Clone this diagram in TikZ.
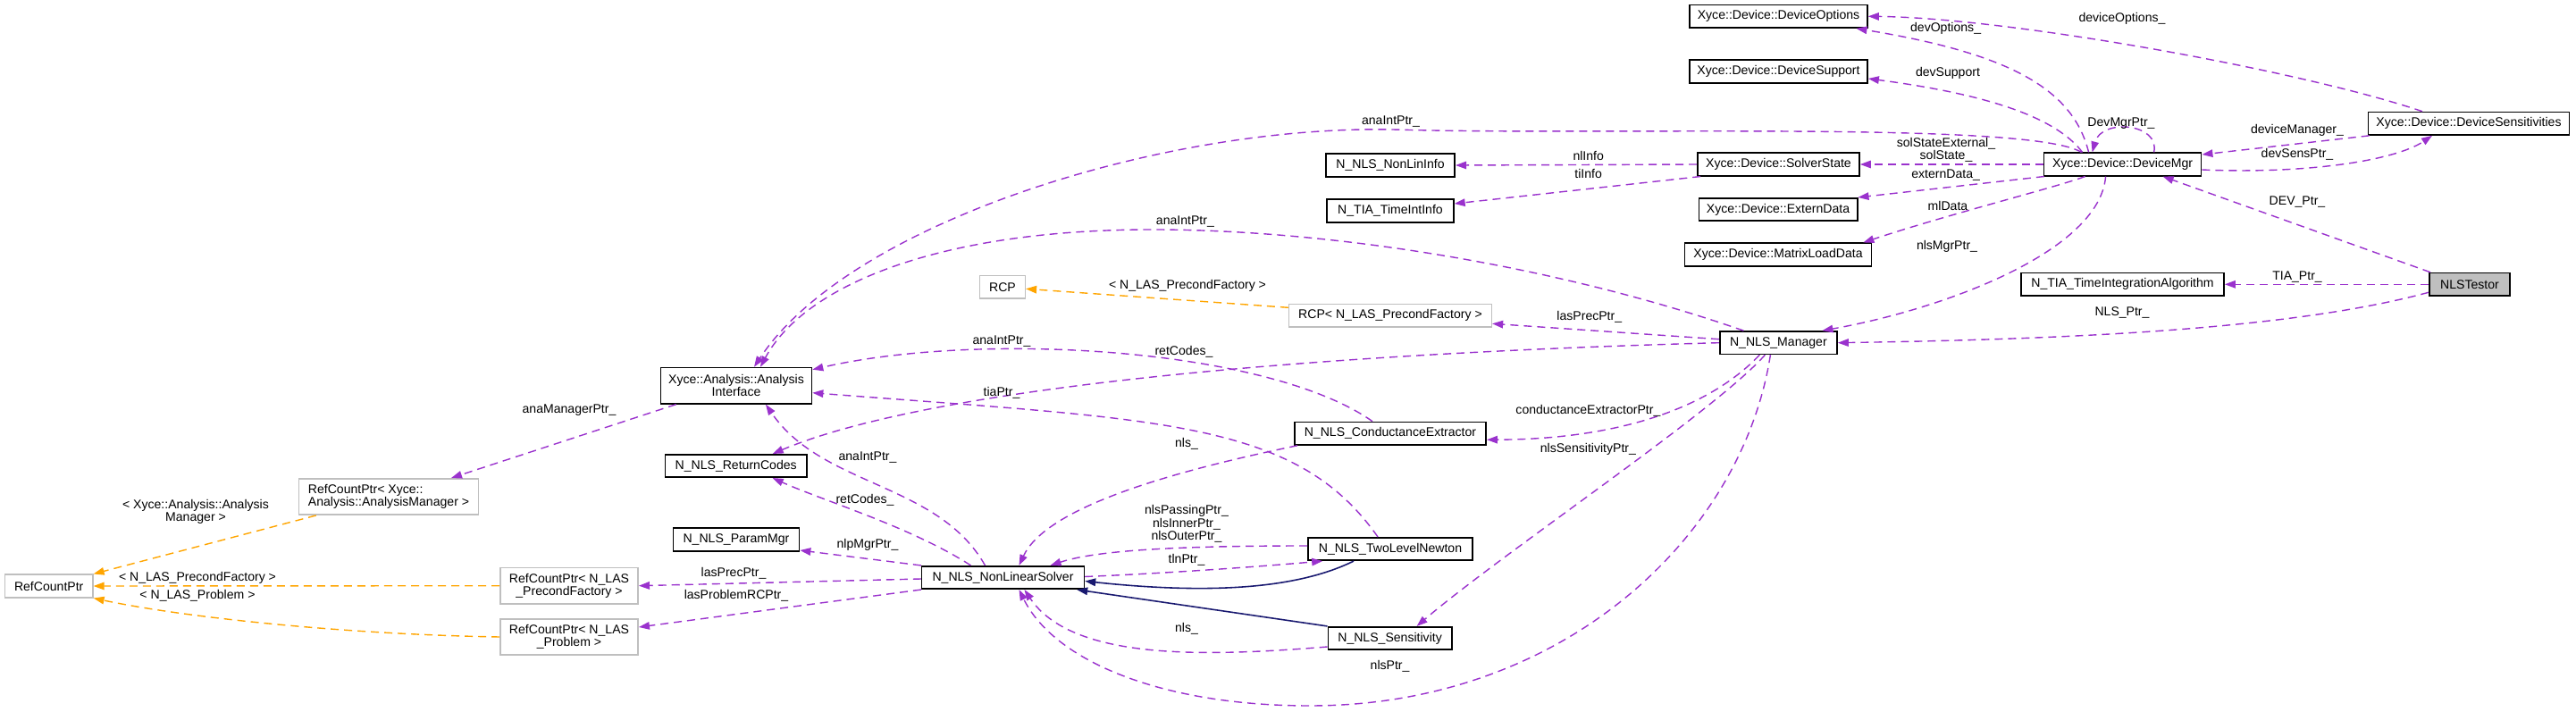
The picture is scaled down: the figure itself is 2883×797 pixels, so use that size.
\documentclass[tikz,border=0pt]{standalone}
\usepackage{fontspec}
\setmainfont{Liberation Sans}
\usetikzlibrary{arrows.meta,calc}
\definecolor{pur}{HTML}{9A32CD}
\definecolor{navyc}{HTML}{191970}
\definecolor{orgc}{HTML}{FFA500}
\definecolor{gbord}{HTML}{BFBFBF}
\begin{document}
\begin{tikzpicture}[x=0.01cm,y=-0.01cm,font=\fontsize{4}{4.1}\selectfont,
  cls/.style={draw=black,line width=0.45pt,fill=white,inner xsep=0.04cm,inner ysep=0.02cm,minimum height=0.255cm},
  tpl/.style={cls,draw=gbord},
  two/.style={minimum height=0.403cm,align=center},
  e_use/.style={draw=pur,line width=0.4pt,dash pattern=on 0.09cm off 0.06cm,-{Triangle[length=0.12cm,width=0.085cm]}},
  e_inst/.style={e_use,draw=orgc},
  e_inh/.style={draw=navyc,solid,line width=0.45pt,-{Triangle[length=0.12cm,width=0.085cm]}},
  lbl/.style={inner sep=0pt,align=center}]
\useasboundingbox (0,0) rectangle (2883,797);
% nodes
\node[cls,minimum width=1.99cm] (devopt) at (1990.5,18.3) {Xyce::Device::DeviceOptions};
\node[cls,minimum width=1.99cm] (devsup) at (1990.5,80) {Xyce::Device::DeviceSupport};
\node[cls,minimum width=2.25cm] (devsens) at (2763,138.3) {Xyce::Device::DeviceSensitivities};
\node[cls,minimum width=1.76cm] (devmgr) at (2375.6,184) {Xyce::Device::DeviceMgr};
\node[cls,minimum width=1.444cm] (nonlininfo) at (1556,185) {N\_NLS\_NonLinInfo};
\node[cls,minimum width=1.81cm] (solverstate) at (1990.5,184) {Xyce::Device::SolverState};
\node[cls,minimum width=1.417cm] (timeintinfo) at (1556,236) {N\_TIA\_TimeIntInfo};
\node[cls,minimum width=1.773cm] (externdata) at (1990,234.5) {Xyce::Device::ExternData};
\node[cls,minimum width=2.09cm] (mld) at (1990,285) {Xyce::Device::MatrixLoadData};
\node[cls,fill=gbord,minimum width=0.904cm] (nlstestor) at (2764,318.3) {NLSTestor};
\node[cls,minimum width=2.27cm] (tia) at (2375.5,318.3) {N\_TIA\_TimeIntegrationAlgorithm};
\node[tpl,minimum width=0.506cm] (rcp) at (1122,321.3) {RCP};
\node[tpl,minimum width=2.265cm] (rcppf) at (1556,353.3) {RCP< N\_LAS\_PrecondFactory >};
\node[cls,minimum width=1.312cm] (mgr) at (1990.4,383.7) {N\_NLS\_Manager};
\node[cls,two,minimum width=1.69cm] (ai) at (824,431.7) {Xyce::Analysis::Analysis\\Interface};
\node[cls,minimum width=2.142cm] (ce) at (1556,485.2) {N\_NLS\_ConductanceExtractor};
\node[cls,minimum width=1.582cm] (rc) at (823.7,521.5) {N\_NLS\_ReturnCodes};
\node[tpl,two,align=left,minimum width=2.007cm] (rcpam) at (435,556) {RefCountPtr< Xyce::\\Analysis::AnalysisManager >};
\node[cls,minimum width=1.41cm] (pm) at (824,604) {N\_NLS\_ParamMgr};
\node[cls,minimum width=1.84cm] (tln) at (1556,614.5) {N\_NLS\_TwoLevelNewton};
\node[tpl,minimum width=0.982cm] (refcnt) at (54.7,656) {RefCountPtr};
\node[tpl,two,minimum width=1.542cm] (rcppf2) at (637,655.7) {RefCountPtr< N\_LAS\\\_PrecondFactory >};
\node[cls,minimum width=1.817cm] (nls) at (1122.5,646.5) {N\_NLS\_NonLinearSolver};
\node[tpl,two,minimum width=1.542cm] (rcpprob) at (637,713) {RefCountPtr< N\_LAS\\\_Problem >};
\node[cls,minimum width=1.384cm] (sens) at (1555.6,714.5) {N\_NLS\_Sensitivity};
% edges
\draw[e_use] ($(devsens.north)+(-52,0)$) .. controls (2580,80) and (2250,20) .. (devopt.east);
\draw[e_use] ($(devmgr.north)+(-38,0)$) .. controls (2320,100) and (2250,60) .. ($(devopt.south)+(87,0)$);
\draw[e_use] ($(devmgr.north)+(-45,0)$) .. controls (2300,130) and (2220,105) .. ($(devsup.east)+(0,8)$);
\draw[e_use] ($(devmgr.north)+(35,0)$) .. controls (2418,138) and (2352,132) .. ($(devmgr.north)+(-34,0)$);
\draw[e_use] ($(devsens.south west)+(2,0)$) -- ($(devmgr.east)+(0,-11)$);
\draw[e_use] ($(devmgr.east)+(0,6)$) .. controls (2580,195) and (2680,180) .. ($(devsens.south)+(-41,0)$);
\draw[e_use] (devmgr.west) -- (solverstate.east);
\draw[e_use] ($(devmgr.south west)+(1,0)$) -- (externdata.north east);
\draw[e_use] ($(devmgr.south)+(-42,0)$) .. controls (2300,210) and (2180,240) .. ($(mld.north east)+(-10,0)$);
\draw[e_use] ($(devmgr.south)+(-19,0)$) .. controls (2350,280) and (2180,345) .. ($(mgr.north)+(49,0)$);
\draw[e_use] ($(devmgr.north)+(-46,0)$) .. controls (2270,135) and (1800,152) .. (1559,145) .. controls (1300,140) and (950,250) .. ($(ai.north)+(20,0)$);
\draw[e_use] (solverstate.west) -- (nonlininfo.east);
\draw[e_use] ($(solverstate.south west)+(4,0)$) -- ($(timeintinfo.east)+(0,-8)$);
\draw[e_use] ($(nlstestor.north)+(-44,0)$) -- ($(devmgr.south)+(45,0)$);
\draw[e_use] (nlstestor.west) -- (tia.east);
\draw[e_use] ($(nlstestor.west)+(0,9)$) .. controls (2560,370) and (2300,380) .. (mgr.east);
\draw[e_use] ($(mgr.north)+(-39,0)$) .. controls (1750,300) and (1500,258) .. (1296,257) .. controls (1050,256) and (900,320) .. ($(ai.north)+(27,0)$);
\draw[e_use] ($(mgr.west)+(0,-4)$) -- ($(rcppf.east)+(0,9)$);
\draw[e_use] (mgr.west) .. controls (1500,395) and (1050,430) .. ($(rc.north)+(41,0)$);
\draw[e_use] ($(ce.north)+(-20,0)$) .. controls (1420,390) and (1100,370) .. ($(ai.east)+(0,-18)$);
\draw[e_use] ($(tln.north)+(-14,0)$) .. controls (1450,470) and (1300,470) .. ($(ai.east)+(0,8)$);
\draw[e_use] ($(mgr.south)+(-21,0)$) .. controls (1900,470) and (1780,492) .. ($(ce.east)+(0,7)$);
\draw[e_use] ($(mgr.south)+(-15,0)$) .. controls (1920,460) and (1680,620) .. ($(sens.north)+(30,0)$);
\draw[e_use] ($(mgr.south)+(-9,0)$) .. controls (1950,600) and (1750,790) .. (1466,790) .. controls (1300,790) and (1180,740) .. ($(nls.south)+(18,0)$);
\draw[e_use] ($(ce.south west)+(4,0)$) .. controls (1300,530) and (1170,570) .. ($(nls.north)+(18,0)$);
\draw[e_use] ($(nls.north)+(-20,0)$) .. controls (1050,540) and (920,545) .. ($(ai.south)+(33,0)$);
\draw[e_use] ($(nls.north)+(-36,0)$) .. controls (1020,590) and (920,560) .. ($(rc.south)+(41,0)$);
\draw[e_use] (nls.north west) -- ($(pm.east)+(0,12)$);
\draw[e_use] ($(nls.west)+(0,1.5)$) -- (rcppf2.east);
\draw[e_use] (nls.south west) -- ($(rcpprob.east)+(0,-11)$);
\draw[e_use] ($(tln.west)+(0,-3.5)$) .. controls (1330,611) and (1230,615) .. ($(nls.north)+(53,0)$);
\draw[e_use] ($(nls.east)+(0,-1)$) .. controls (1300,642) and (1400,635) .. ($(tln.south west)+(17,0)$);
\draw[e_inh] ($(tln.south)+(-41,0)$) .. controls (1450,660) and (1350,665) .. ($(nls.east)+(0,4)$);
\draw[e_inh] (sens.north west) -- ($(nls.south east)+(-9,0)$);
\draw[e_use] ($(sens.west)+(0,9.5)$) .. controls (1350,735) and (1200,740) .. ($(nls.south)+(24,0)$);
\draw[e_use] ($(ai.south west)+(18,0)$) -- ($(rcpam.north)+(70,0)$);
\draw[e_inst] ($(rcpam.south west)+(20,0)$) -- (refcnt.north east);
\draw[e_inst] (rcppf2.west) -- (refcnt.east);
\draw[e_inst] (rcpprob.west) .. controls (380,710) and (200,690) .. (refcnt.south east);
\draw[e_inst] ($(rcppf.west)+(0,-9)$) -- ($(rcp.east)+(0,2)$);
% labels
\node[lbl] (l1) at (2375,21) {deviceOptions\_};
\node[lbl] (l2) at (2177.6,32) {devOptions\_};
\node[lbl] (l3) at (2180,82) {devSupport};
\node[lbl] (l4) at (2374,138) {DevMgrPtr\_};
\node[lbl] (l5) at (2571,146) {deviceManager\_};
\node[lbl] (l6) at (2571,173) {devSensPtr\_};
\node[lbl] (l7) at (2178,168) {solStateExternal\_\\solState\_};
\node[lbl] (l8) at (2177.6,195.7) {externData\_};
\node[lbl] (l9) at (2180,230) {mlData};
\node[lbl] (l10) at (2179,276) {nlsMgrPtr\_};
\node[lbl] (l11) at (1556.5,136) {anaIntPtr\_};
\node[lbl] (l12) at (1777.7,174.3) {nlInfo};
\node[lbl] (l13) at (1777.7,194.3) {tiInfo};
\node[lbl] (l14) at (2571,226) {DEV\_Ptr\_};
\node[lbl] (l15) at (2571,310) {TIA\_Ptr\_};
\node[lbl] (l16) at (2375,350) {NLS\_Ptr\_};
\node[lbl] (l17) at (1326.4,248.3) {anaIntPtr\_};
\node[lbl] (l18) at (1778.8,355) {lasPrecPtr\_};
\node[lbl] (l19) at (1325,394) {retCodes\_};
\node[lbl] (l19b) at (1121,440) {tiaPtr\_};
\node[lbl] (l20) at (1121,381.7) {anaIntPtr\_};
\node[lbl] (l22) at (1777.4,459.3) {conductanceExtractorPtr\_};
\node[lbl] (l23) at (1777.4,502.7) {nlsSensitivityPtr\_};
\node[lbl] (l24) at (1555.6,746) {nlsPtr\_};
\node[lbl] (l25) at (1328,496.7) {nls\_};
\node[lbl] (l26) at (971,511.7) {anaIntPtr\_};
\node[lbl] (l27) at (968,560) {retCodes\_};
\node[lbl] (l28) at (971,610) {nlpMgrPtr\_};
\node[lbl] (l29) at (821,641.7) {lasPrecPtr\_};
\node[lbl] (l30) at (824,666.7) {lasProblemRCPtr\_};
\node[lbl] (l31) at (1328,586.7) {nlsPassingPtr\_\\nlsInnerPtr\_\\nlsOuterPtr\_};
\node[lbl] (l32) at (1328,626.7) {tlnPtr\_};
\node[lbl] (l35) at (1328,703.3) {nls\_};
\node[lbl] (l36) at (637,459.3) {anaManagerPtr\_};
\node[lbl] (l37) at (219,573) {< Xyce::Analysis::Analysis\\Manager >};
\node[lbl] (l38) at (221,646.7) {< N\_LAS\_PrecondFactory >};
\node[lbl] (l39) at (221,666.7) {< N\_LAS\_Problem >};
\node[lbl] (l40) at (1329,320) {< N\_LAS\_PrecondFactory >};
\end{tikzpicture}
\end{document}
